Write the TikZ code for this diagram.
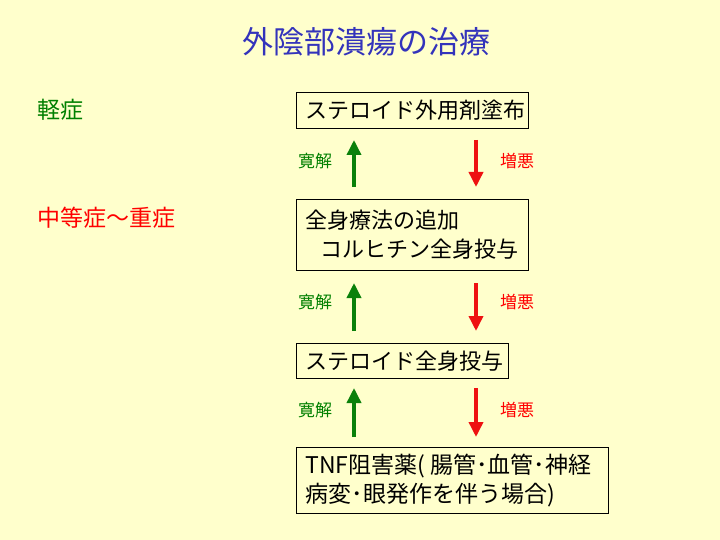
\documentclass[tikz,border=0pt]{standalone}
\usepackage{fontspec}
\newfontfamily\cjk{Noto Sans CJK JP}
\usetikzlibrary{arrows.meta}
\definecolor{bgyellow}{HTML}{FFFFCC}
\definecolor{titleblue}{HTML}{3333BB}
\definecolor{lgreen}{HTML}{008000}
\definecolor{lred}{HTML}{FF0000}
\definecolor{agreen}{HTML}{0A800A}
\definecolor{ared}{HTML}{EE1111}
\begin{document}
\begin{tikzpicture}[x=1pt,y=-1pt,
  box/.style={draw=black, line width=1pt, anchor=north west, inner xsep=9pt, inner ysep=0pt,
    align=left, font=\cjk\fontsize{22}{29}\selectfont},
  garrow/.style={draw=agreen, line width=3.5pt, -{Triangle[width=14pt,length=15pt]}},
  rarrow/.style={draw=ared, line width=3.5pt, -{Triangle[width=14pt,length=15pt]}},
  glabel/.style={text=lgreen, font=\cjk\fontsize{17}{20}\selectfont, inner sep=0pt},
  rlabel/.style={text=lred, font=\cjk\fontsize{17}{20}\selectfont, inner sep=0pt},
  sevlabel/.style={anchor=west, inner sep=0pt, font=\cjk\fontsize{23}{26}\selectfont}]
\fill[bgyellow] (0,0) rectangle (720,540);
\useasboundingbox (0,0) rectangle (720,540);

\node[text=titleblue, font=\cjk\fontsize{31}{34}\selectfont, inner sep=0pt] (title) at (366,42) {外陰部潰瘍の治療};

\node[sevlabel, text=lgreen] (mild) at (37,110) {軽症};
\node[sevlabel, text=lred] (severe) at (37,218) {中等症～重症};

\node[box, text width=214pt, minimum height=36pt] (b1) at (296,92) {ステロイド外用剤塗布};
\node[box, text width=214pt, minimum height=71pt] (b2) at (296,199) {全身療法の追加\\\hspace*{15pt}コルヒチン全身投与};
\node[box, text width=194pt, minimum height=35pt] (b3) at (296,343) {ステロイド全身投与};
\node[box, text width=294pt, minimum height=66pt, font=\cjk\fontsize{23}{29}\selectfont] (b4) at (296,447) {TNF阻害薬(\kern5pt腸管･血管･神経\\病変･眼発作を伴う場合)};

% pair 1
\draw[garrow] ([xshift=58pt,yshift=12pt]b2.north west) -- ([xshift=58pt,yshift=-11pt]b1.south west);
\draw[rarrow] ([xshift=180pt,yshift=-11pt]b1.south west) -- ([xshift=180pt,yshift=12pt]b2.north west);
\node[glabel] (g1) at (315,161) {寛解};
\node[rlabel] (r1) at (517,161) {増悪};

% pair 2
\draw[garrow] ([xshift=58pt,yshift=12pt]b3.north west) -- ([xshift=58pt,yshift=-12pt]b2.south west);
\draw[rarrow] ([xshift=180pt,yshift=-12pt]b2.south west) -- ([xshift=180pt,yshift=12pt]b3.north west);
\node[glabel] (g2) at (315,302) {寛解};
\node[rlabel] (r2) at (517,302) {増悪};

% pair 3
\draw[garrow] ([xshift=58pt,yshift=10pt]b4.north west) -- ([xshift=58pt,yshift=-9pt]b3.south west);
\draw[rarrow] ([xshift=180pt,yshift=-9pt]b3.south west) -- ([xshift=180pt,yshift=10pt]b4.north west);
\node[glabel] (g3) at (315,410) {寛解};
\node[rlabel] (r3) at (517,410) {増悪};
\end{tikzpicture}
\end{document}
